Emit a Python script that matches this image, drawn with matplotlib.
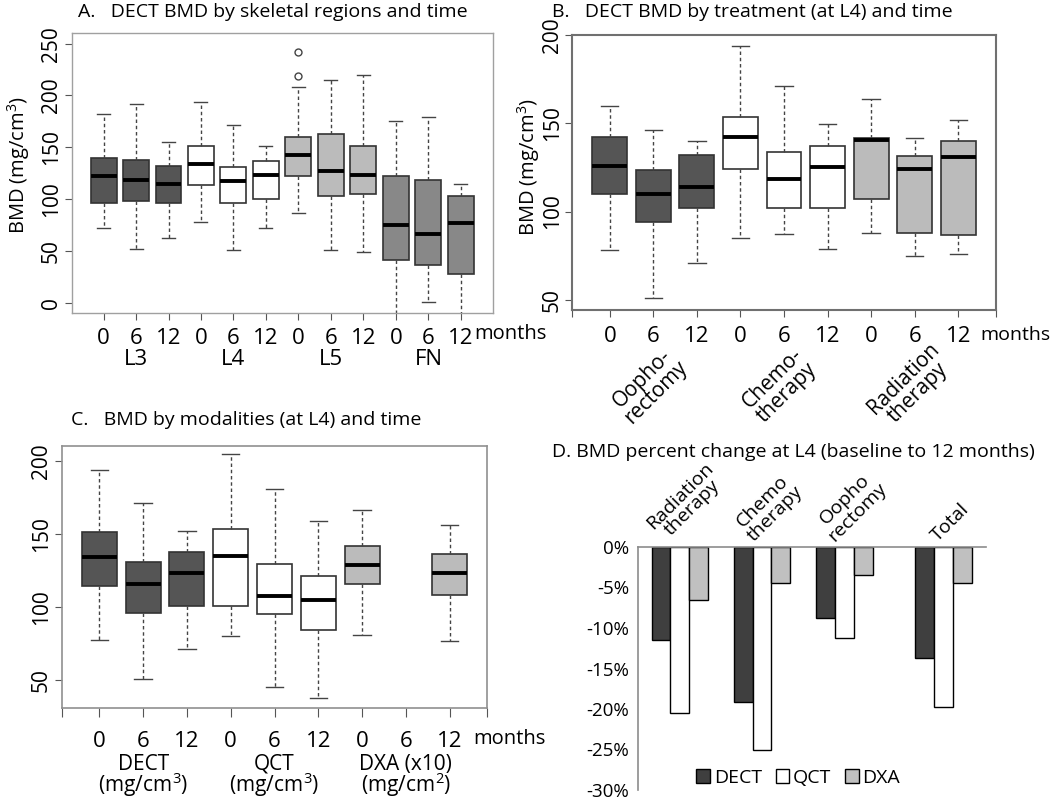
import numpy as np
import matplotlib.pyplot as plt

plt.rcParams['font.family'] = ['Open Sans', 'DejaVu Sans']
plt.rcParams['mathtext.fontset'] = 'custom'
plt.rcParams['mathtext.rm'] = 'Open Sans'
plt.rcParams['mathtext.default'] = 'regular'

months = ['0', '6', '12'] * 3

# A. DECT BMD by skeletal region, months 0/6/12
a_groups = ['L3', 'L4', 'L5', 'FN']
a_low = [72, 52, 62, 78, 51, 72, 87, 51, 49, -25, 1, -25]
a_q1 = [96, 98, 96, 114, 96, 100, 122, 103, 105, 41, 36, 28]
a_med = [122, 118, 115, 134, 117, 123, 143, 127, 123, 75, 66, 77]
a_q3 = [140, 138, 132, 151, 131, 137, 160, 163, 151, 122, 118, 103]
a_high = [182, 192, 155, 194, 171, 151, 208, 215, 220, 175, 179, 115]
a_fliers = [[], [], [], [], [], [], [242, 219], [], [], [], [], []]

# B. DECT BMD at L4 by treatment
b_groups = ['Oopho-\nrectomy', 'Chemo-\ntherapy', 'Radiation\ntherapy']
b_low = [78, 51, 71, 85, 87.5, 79, 88, 75, 76]
b_q1 = [110, 94, 102, 124, 102, 102, 107, 88, 87]
b_med = [126, 110, 114, 142, 118.5, 125, 140.5, 124, 131]
b_q3 = [142, 123.5, 132, 153.5, 134, 137, 141.5, 131.5, 140]
b_high = [160, 146, 140, 194, 171, 149.5, 164, 141.5, 152]

# C. BMD at L4 by modality (DXA 6 months missing)
c_groups = ['DECT\n(mg/cm$^3$)', 'QCT\n(mg/cm$^3$)', 'DXA (x10)\n(mg/cm$^2$)']
c_low = [77.5, 50.5, 71, 80, 45, 38, 81, None, 76.5]
c_q1 = [114, 96, 101, 101, 95.5, 84.5, 115.5, None, 108.5]
c_med = [134, 116, 123, 135, 107.5, 105, 128.5, None, 123.5]
c_q3 = [151, 130.5, 137.5, 153.5, 129.5, 121.5, 142, None, 136]
c_high = [193.5, 171, 152, 204.5, 181, 158.5, 166, None, 156]

# D. percent change baseline -> 12 months
d_cats = ['Radiation\ntherapy', 'Chemo\ntherapy', 'Oopho\nrectomy', 'Total']
d_dect = [-11.5, -19.1, -8.8, -13.7]
d_qct = [-20.5, -25.0, -11.2, -19.8]
d_dxa = [-6.6, -4.4, -3.5, -4.5]

dark, mid, light = '#555555', '#888888', '#bbbbbb'
FS = 16


def box_panel(ax, low, q1, med, q3, high, colors, fliers=None):
    stats, pos = [], []
    for i in range(len(med)):
        if med[i] is None:
            continue
        stats.append(dict(whislo=low[i], q1=q1[i], med=med[i], q3=q3[i],
                          whishi=high[i], fliers=fliers[i] if fliers else []))
        pos.append(i + 1)
    bp = ax.bxp(stats, positions=pos, widths=0.8, capwidths=0.4, patch_artist=True,
                boxprops=dict(edgecolor='#333333', linewidth=1.2),
                whiskerprops=dict(color='#444444', linestyle=(0, (2.5, 2)), linewidth=1),
                capprops=dict(color='#444444', linewidth=1),
                medianprops=dict(color='black', linewidth=2.8),
                flierprops=dict(marker='o', markerfacecolor='none',
                                markeredgecolor='#444444', markersize=5))
    for patch, p in zip(bp['boxes'], pos):
        patch.set_facecolor(colors[p - 1])


def r_axes(ax, n, labels, yticks, frame, lw, xlen=5, xpad=4, ends=False):
    ax.set_xlim(0.5 - 0.04 * n, n + 0.5 + 0.04 * n)
    ax.set_xticks(range(1, n + 1))
    ax.set_xticklabels(labels)
    if ends:
        ax.set_xticks(list(ax.get_xlim()), minor=True)
    ax.set_yticks(yticks)
    ax.tick_params(axis='y', length=5, width=0.8, color='#555555',
                   labelsize=15, pad=2, labelrotation=90)
    ax.tick_params(axis='x', which='both', length=xlen, width=0.8, color='#555555',
                   labelsize=FS, pad=xpad)
    plt.setp(ax.get_yticklabels(), va='center')
    for sp in ax.spines.values():
        sp.set_color(frame)
        sp.set_linewidth(lw)


fig = plt.figure(figsize=(10.5, 7.99), dpi=100)
W, H = 1050, 799


def add_ax(l, t, r, b):
    return fig.add_axes([l / W, 1 - b / H, (r - l) / W, (b - t) / H])


# panel A
axA = add_ax(71.7, 33.3, 492.7, 313)
box_panel(axA, a_low, a_q1, a_med, a_q3, a_high,
          [dark] * 3 + ['white'] * 3 + [light] * 3 + [mid] * 3, a_fliers)
r_axes(axA, 12, ['0', '6', '12'] * 4, range(0, 251, 50), '#a0a0a0', 1.0, xpad=6)
axA.set_ylim(-10, 260)
for i, g in enumerate(a_groups):
    axA.text(3 * i + 2, -0.165, g, transform=axA.get_xaxis_transform(),
             ha='center', va='center', fontsize=FS)
axA.text(12.42, -0.075, 'months', transform=axA.get_xaxis_transform(),
         ha='left', va='center', fontsize=14.5)
fig.text(78 / W, 1 - 12 / H, 'A.   DECT BMD by skeletal regions and time',
         fontsize=14, va='center')
fig.text(18.5 / W, 1 - 165 / H, 'BMD (mg/cm$^3$)', rotation=90,
         ha='center', va='center', fontsize=14.5)

# panel B
axB = add_ax(572.3, 35, 995.8, 310)
box_panel(axB, b_low, b_q1, b_med, b_q3, b_high,
          [dark] * 3 + ['white'] * 3 + [light] * 3)
r_axes(axB, 9, months, range(50, 201, 50), '#707070', 1.5, xpad=6.5, ends=True)
axB.set_ylim(44.3, 200)
for i, g in enumerate(b_groups):
    axB.text(3 * i + 1.9, -0.275, g, transform=axB.get_xaxis_transform(),
             ha='center', va='center', rotation=45, fontsize=15, linespacing=0.95)
axB.text(9.5, -0.09, 'months', transform=axB.get_xaxis_transform(),
         ha='left', va='center', fontsize=14)
fig.text(552 / W, 1 - 12 / H, 'B.   DECT BMD by treatment (at L4) and time',
         fontsize=14, va='center')
fig.text(529 / W, 1 - 167 / H, 'BMD (mg/cm$^3$)', rotation=90,
         ha='center', va='center', fontsize=14.5)

# panel C
axC = add_ax(61.7, 445.7, 487.3, 707.7)
box_panel(axC, c_low, c_q1, c_med, c_q3, c_high,
          [dark] * 3 + ['white'] * 3 + [light] * 3)
r_axes(axC, 9, months, range(50, 201, 50), '#909090', 1.2, xlen=6.5, xpad=10, ends=True)
axC.set_ylim(31.1, 210.3)
for i, g in enumerate(c_groups):
    axC.text(3 * i + 2, -0.262, g, transform=axC.get_xaxis_transform(),
             ha='center', va='center', fontsize=15, linespacing=0.8)
axC.text(9.55, -0.12, 'months', transform=axC.get_xaxis_transform(),
         ha='left', va='center', fontsize=14.5)
fig.text(71 / W, 1 - 420 / H, 'C.   BMD by modalities (at L4) and time',
         fontsize=14, va='center')

# panel D
axD = add_ax(637.6, 547, 985.5, 790)
xpos = np.array([0, 1, 2, 3.2])
w = 0.227
axD.bar(xpos - w, d_dect, w, color='#3f3f3f', edgecolor='black', linewidth=1, label='DECT')
axD.bar(xpos, d_qct, w, color='white', edgecolor='black', linewidth=1, label='QCT')
axD.bar(xpos + w, d_dxa, w, color='#c0c0c0', edgecolor='black', linewidth=1, label='DXA')
axD.set_xlim(-0.51, 3.71)
axD.set_ylim(-30, 0)
axD.set_yticks(range(-30, 1, 5))
axD.set_yticklabels(['%d%%' % v for v in range(-30, 1, 5)])
axD.set_xticks([])
axD.tick_params(axis='y', length=0, pad=6, labelsize=13.5)
for s in ['right', 'bottom']:
    axD.spines[s].set_visible(False)
for s in ['left', 'top']:
    axD.spines[s].set_color('#8c8c8c')
    axD.spines[s].set_linewidth(1.2)
for x, c in zip(xpos, d_cats):
    axD.text(x + 0.08, 0.3, c, ha='center', va='bottom', rotation=45,
             fontsize=14, linespacing=0.95, clip_on=False)
axD.legend(loc='center', bbox_to_anchor=(0.462, 0.05), ncol=3, frameon=False,
           fontsize=14, handlelength=0.7, handleheight=0.7, handletextpad=0.2,
           columnspacing=0.7, borderpad=0)
fig.text(552 / W, 1 - 452 / H, 'D. BMD percent change at L4 (baseline to 12 months)',
         fontsize=14, va='center')

fig.savefig('out.png', dpi=100)
